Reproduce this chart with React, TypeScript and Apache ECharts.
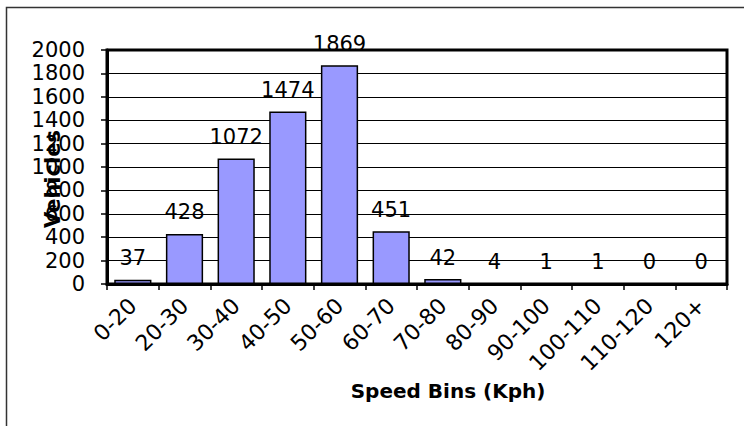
import React, { useEffect, useRef } from "react";
import * as echarts from "echarts";

const categories = ["0-20", "20-30", "30-40", "40-50", "50-60", "60-70", "70-80", "80-90", "90-100", "100-110", "110-120", "120+"];
const vehicles = [37, 428, 1072, 1474, 1869, 451, 42, 4, 1, 1, 0, 0];
const yTicks = { min: 0, max: 2000, interval: 200 };
const xTitle = "Speed Bins (Kph)";
const yTitle = "Vehicles";

const FONT = "'DejaVu Sans', 'Liberation Sans', Arial, sans-serif";

export default function App() {
  const ref = useRef<HTMLDivElement>(null);
  useEffect(() => {
    if (!ref.current) return;
    const chart = echarts.init(ref.current, undefined, { renderer: "svg" });
    chart.setOption({
      animation: false,
      backgroundColor: "#ffffff",
      grid: {
        left: 107,
        top: 50,
        right: 17,
        bottom: 142,
        show: true,
        borderColor: "#000",
        borderWidth: 3,
        backgroundColor: "transparent",
      },
      xAxis: {
        type: "category",
        data: categories,
        axisLine: { show: true, lineStyle: { color: "#000", width: 3 } },
        axisTick: { show: true, length: 6, lineStyle: { color: "#000", width: 1.5 } },
        axisLabel: {
          rotate: 45,
          interval: 0,
          margin: 18,
          color: "#000",
          fontFamily: FONT,
          fontSize: 22,
        },
        splitLine: { show: false },
      },
      yAxis: {
        type: "value",
        min: yTicks.min,
        max: yTicks.max,
        interval: yTicks.interval,
        axisLine: { show: true, lineStyle: { color: "#000", width: 3 } },
        axisTick: { show: true, length: 6, lineStyle: { color: "#000", width: 1.5 } },
        axisLabel: {
          margin: 22,
          color: "#000",
          fontFamily: FONT,
          fontSize: 21,
          formatter: (v: number) => String(v),
        },
        splitLine: { show: true, lineStyle: { color: "#000", width: 1 } },
      },
      series: [
        {
          type: "bar",
          data: vehicles,
          barCategoryGap: "28%",
          itemStyle: { color: "#9999FF", borderColor: "#000", borderWidth: 1.5 },
          label: {
            show: true,
            position: "top",
            distance: 11,
            color: "#000",
            fontFamily: FONT,
            fontSize: 21,
          },
        },
      ],
      graphic: [
        {
          type: "rect",
          shape: { x: 6.5, y: 7.5, width: 900, height: 600 },
          style: { fill: "none", stroke: "#333", lineWidth: 1.5 },
          silent: true,
        },
        {
          type: "text",
          x: 53,
          y: 179,
          rotation: Math.PI / 2,
          style: {
            text: yTitle,
            fill: "#000",
            font: `bold 21px ${FONT}`,
            align: "center",
            verticalAlign: "middle",
          },
        },
        {
          type: "text",
          x: 448,
          y: 391,
          style: {
            text: xTitle,
            fill: "#000",
            font: `bold 20px ${FONT}`,
            align: "center",
            verticalAlign: "middle",
          },
        },
      ],
    });
    return () => chart.dispose();
  }, []);
  return (
    <div
      ref={ref}
      style={{ position: "absolute", left: 0, top: 0, width: 744, height: 426 }}
    />
  );
}
